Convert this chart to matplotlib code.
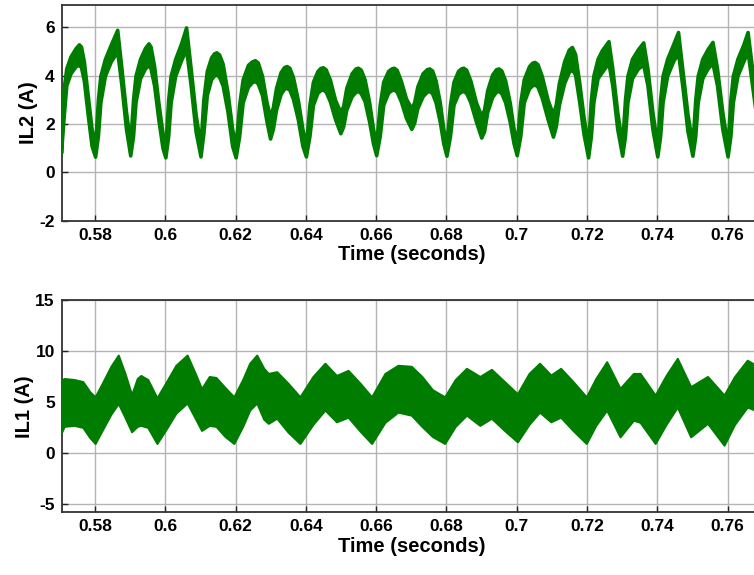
import numpy as np
import matplotlib
matplotlib.use("Agg")
import matplotlib.pyplot as plt

plt.rcParams['font.family'] = ['Liberation Sans', 'DejaVu Sans']
plt.rcParams['font.weight'] = 'bold'

# ---------------- IL2 envelope (time s, upper A, lower A) ----------------
il2_t = [0.5703, 0.5710, 0.5718, 0.5730, 0.5745, 0.5754, 0.5760, 0.5768, 0.5779, 0.5790, 0.5800,
         0.5808, 0.5815, 0.5828, 0.5845, 0.5863, 0.5875, 0.5888, 0.5900,
         0.5908, 0.5915, 0.5928, 0.5942, 0.5952, 0.5958, 0.5968, 0.5980, 0.5992, 0.6000,
         0.6008, 0.6015, 0.6028, 0.6045, 0.6059, 0.6072, 0.6086, 0.6100,
         0.6108, 0.6118, 0.6130, 0.6138, 0.6145, 0.6153, 0.6163, 0.6177, 0.6190, 0.6200,
         0.6210, 0.6220, 0.6235, 0.6247, 0.6255, 0.6263, 0.6275, 0.6288, 0.6298,
         0.6306, 0.6315, 0.6328, 0.6338, 0.6345, 0.6353, 0.6363, 0.6377, 0.6390, 0.6400,
         0.6410, 0.6420, 0.6433, 0.6441, 0.6448, 0.6456, 0.6468, 0.6483, 0.6498,
         0.6506, 0.6515, 0.6530, 0.6541, 0.6548, 0.6556, 0.6567, 0.6580, 0.6591, 0.6600,
         0.6610, 0.6620, 0.6634, 0.6643, 0.6650, 0.6658, 0.6670, 0.6685, 0.6700,
         0.6708, 0.6717, 0.6732, 0.6744, 0.6751, 0.6759, 0.6769, 0.6781, 0.6791, 0.6800,
         0.6810, 0.6820, 0.6833, 0.6841, 0.6848, 0.6856, 0.6868, 0.6884, 0.6899,
         0.6907, 0.6916, 0.6930, 0.6941, 0.6948, 0.6956, 0.6967, 0.6980, 0.6991, 0.7000,
         0.7010, 0.7020, 0.7035, 0.7044, 0.7051, 0.7059, 0.7071, 0.7088, 0.7103,
         0.7111, 0.7120, 0.7135, 0.7148, 0.7157, 0.7166, 0.7178, 0.7190, 0.7203,
         0.7211, 0.7218, 0.7230, 0.7242, 0.7261, 0.7272, 0.7286, 0.7300,
         0.7308, 0.7315, 0.7328, 0.7345, 0.7360, 0.7372, 0.7386, 0.7400,
         0.7408, 0.7415, 0.7428, 0.7445, 0.7459, 0.7471, 0.7486, 0.7500,
         0.7508, 0.7515, 0.7528, 0.7543, 0.7557, 0.7570, 0.7585, 0.7600,
         0.7608, 0.7615, 0.7628, 0.7645, 0.7657, 0.7668, 0.7680, 0.7700]
il2_up = [1.6, 3.4, 4.3, 4.8, 5.15, 5.3, 5.2, 4.6, 3.2, 1.8, 1.1,
          3.0, 4.0, 4.7, 5.3, 5.9, 4.3, 2.5, 1.2,
          3.0, 4.0, 4.7, 5.15, 5.34, 5.2, 4.4, 2.9, 1.6, 1.1,
          3.0, 4.0, 4.7, 5.35, 6.0, 4.3, 2.4, 1.1,
          3.0, 4.2, 4.75, 4.92, 4.97, 4.88, 4.5, 3.3, 1.8, 1.1,
          2.8, 3.85, 4.45, 4.6, 4.64, 4.55, 4.0, 2.9, 2.3,
          2.7, 3.5, 4.15, 4.36, 4.4, 4.33, 3.95, 3.0, 1.8, 1.1,
          2.8, 3.75, 4.2, 4.32, 4.35, 4.27, 3.85, 3.0, 2.5,
          2.75, 3.5, 4.1, 4.3, 4.33, 4.25, 3.85, 2.9, 1.8, 1.2,
          2.8, 3.75, 4.2, 4.3, 4.33, 4.25, 3.8, 3.05, 2.65,
          2.9, 3.55, 4.1, 4.27, 4.3, 4.22, 3.8, 2.9, 1.8, 1.2,
          2.8, 3.75, 4.2, 4.3, 4.33, 4.25, 3.8, 2.9, 2.34,
          2.6, 3.4, 4.05, 4.27, 4.3, 4.22, 3.8, 2.9, 1.8, 1.2,
          2.9, 3.85, 4.4, 4.54, 4.57, 4.48, 4.0, 3.0, 2.4,
          2.8, 3.7, 4.6, 5.08, 5.19, 4.9, 3.7, 2.3, 1.1,
          3.0, 4.0, 4.7, 5.05, 5.43, 4.3, 2.5, 1.15,
          3.0, 4.0, 4.7, 5.1, 5.38, 4.3, 2.5, 1.1,
          3.0, 4.0, 4.7, 5.3, 5.81, 4.3, 2.4, 1.15,
          3.0, 4.0, 4.7, 5.1, 5.4, 4.3, 2.5, 1.1,
          3.0, 4.0, 4.7, 5.3, 5.81, 4.5, 3.2, 1.6]
il2_lo = [0.8, 2.2, 3.6, 4.1, 4.4, 4.45, 4.35, 3.8, 2.4, 1.1, 0.65,
          1.5, 2.9, 4.0, 4.6, 5.0, 3.6, 1.8, 0.7,
          1.5, 2.9, 3.9, 4.3, 4.45, 4.3, 3.6, 2.2, 1.0, 0.62,
          1.5, 2.9, 4.0, 4.65, 5.1, 3.6, 1.7, 0.66,
          1.6, 3.2, 3.85, 4.0, 4.06, 3.95, 3.6, 2.5, 1.1, 0.62,
          1.5, 2.9, 3.55, 3.74, 3.78, 3.68, 3.2, 2.1, 1.4,
          1.8, 2.6, 3.25, 3.46, 3.5, 3.42, 3.05, 2.2, 1.1, 0.66,
          1.5, 2.8, 3.3, 3.4, 3.43, 3.35, 2.95, 2.2, 1.62,
          1.9, 2.6, 3.15, 3.33, 3.37, 3.28, 2.95, 2.1, 1.2, 0.71,
          1.5, 2.8, 3.3, 3.4, 3.43, 3.35, 2.95, 2.25, 1.8,
          2.05, 2.65, 3.15, 3.34, 3.37, 3.28, 2.9, 2.1, 1.2, 0.69,
          1.5, 2.8, 3.25, 3.34, 3.37, 3.29, 2.9, 2.1, 1.44,
          1.7, 2.5, 3.12, 3.34, 3.37, 3.28, 2.9, 2.1, 1.2, 0.71,
          1.5, 2.9, 3.48, 3.6, 3.64, 3.55, 3.1, 2.2, 1.48,
          1.9, 2.8, 3.7, 4.15, 4.26, 4.05, 2.9, 1.6, 0.62,
          1.5, 2.9, 3.9, 4.15, 4.53, 3.6, 1.8, 0.69,
          1.5, 2.9, 3.9, 4.3, 4.46, 3.6, 1.8, 0.66,
          1.5, 2.9, 4.0, 4.6, 4.95, 3.6, 1.7, 0.69,
          1.5, 2.9, 3.9, 4.3, 4.53, 3.6, 1.8, 0.66,
          1.5, 2.9, 4.0, 4.6, 5.0, 3.8, 2.5, 0.9]

# ---------------- IL1 envelope (time s, upper A, lower A) ----------------
il1_t = [0.5703, 0.5712, 0.5740, 0.5765, 0.5785, 0.5800, 0.5820, 0.5845, 0.5866, 0.5885,
         0.5904, 0.5920, 0.5930, 0.5950, 0.5976, 0.6000, 0.6030, 0.6062, 0.6085, 0.6103,
         0.6125, 0.6144, 0.6170, 0.6195, 0.6220, 0.6240, 0.6260, 0.6280, 0.6293, 0.6317,
         0.6350, 0.6383, 0.6420, 0.6454, 0.6487, 0.6520, 0.6555, 0.6587, 0.6625, 0.6662,
         0.6700, 0.6730, 0.6760, 0.6795, 0.6825, 0.6857, 0.6895, 0.6928, 0.6965, 0.7002,
         0.7035, 0.7065, 0.7097, 0.7125, 0.7160, 0.7198, 0.7225, 0.7256, 0.7294, 0.7332,
         0.7351, 0.7394, 0.7425, 0.7457, 0.7495, 0.7543, 0.7590, 0.7620, 0.7656, 0.7700]
il1_up = [7.1, 7.3, 7.2, 7.0, 6.0, 5.5, 6.8, 8.5, 9.6, 7.8,
          5.7, 7.3, 7.6, 7.2, 5.4, 6.8, 8.6, 9.6, 7.8, 6.3,
          7.5, 7.4, 6.4, 5.5, 7.2, 8.8, 9.6, 8.3, 7.8, 7.97,
          6.8, 5.5, 7.5, 8.8, 7.6, 8.1, 6.8, 5.5, 7.8, 8.6,
          8.5, 7.5, 6.2, 5.5, 7.2, 8.3, 7.5, 8.2, 7.0, 5.8,
          7.8, 8.8, 7.64, 8.3, 7.0, 5.5, 7.3, 8.95, 6.33, 7.8,
          7.8, 5.67, 7.6, 9.28, 6.5, 7.5, 5.67, 7.5, 9.1, 8.2]
il1_lo = [1.9, 2.6, 2.7, 2.5, 1.5, 0.92, 2.2, 3.8, 4.85, 3.5,
          2.07, 2.6, 2.7, 2.5, 0.92, 2.2, 3.9, 4.9, 3.4, 2.2,
          2.7, 2.6, 1.6, 0.92, 2.6, 4.2, 4.9, 3.3, 2.9, 3.4,
          2.0, 0.92, 2.8, 4.2, 3.05, 3.5, 2.1, 0.92, 3.0, 4.0,
          3.7, 2.6, 1.6, 0.92, 2.6, 3.7, 2.7, 3.4, 2.2, 1.08,
          2.8, 4.0, 3.05, 3.5, 2.2, 0.92, 2.7, 4.2, 1.57, 3.2,
          3.0, 0.92, 2.8, 4.5, 1.57, 2.9, 0.75, 2.8, 4.5, 3.9]

x_ticks = [0.58, 0.6, 0.62, 0.64, 0.66, 0.68, 0.7, 0.72, 0.74, 0.76]
x_tick_labels = ['0.58', '0.6', '0.62', '0.64', '0.66', '0.68', '0.7', '0.72', '0.74', '0.76']
il2_yticks = [-2, 0, 2, 4, 6]
il1_yticks = [-5, 0, 5, 10, 15]

W, H = 754, 575
fig = plt.figure(figsize=(W / 100, H / 100), dpi=100)

left_px, right_px = 61.7, 762.0
ax1 = fig.add_axes([left_px / W, 1 - 220.7 / H, (right_px - left_px) / W, (220.7 - 4.7) / H])
ax2 = fig.add_axes([left_px / W, 1 - 512.3 / H, (right_px - left_px) / W, (512.3 - 300.2) / H])

green = '#007d00'
ax1.fill_between(il2_t, il2_lo, il2_up, color=green, lw=2.6, edgecolor=green,
                 joinstyle='round', zorder=3)
ax2.fill_between(il1_t, il1_lo, il1_up, color=green, lw=1.5, edgecolor=green,
                 joinstyle='round', zorder=3)

for ax, yt, ylim, lab in [(ax1, il2_yticks, (-1.97, 6.94), 'IL2 (A)'),
                          (ax2, il1_yticks, (-5.85, 15.0), 'IL1 (A)')]:
    ax.set_xlim(0.5705, 0.7698)
    ax.set_ylim(*ylim)
    ax.set_xticks(x_ticks)
    ax.set_xticklabels(x_tick_labels)
    ax.set_yticks(yt)
    ax.set_yticklabels([str(v) for v in yt])
    ax.grid(True, color='#b4b4b4', lw=1.0, zorder=1)
    ax.tick_params(direction='in', length=4, width=1, labelsize=12.5, pad=5, colors='#222222')
    for lbl in ax.get_xticklabels() + ax.get_yticklabels():
        lbl.set_fontweight('bold')
        lbl.set_color('black')
    for s in ax.spines.values():
        s.set_color('#333333')
        s.set_linewidth(1.3)
    ax.set_xlabel('Time (seconds)', fontsize=14.5, fontweight='bold', labelpad=2)
    ax.set_ylabel(lab, fontsize=14.5, fontweight='bold', labelpad=1)

fig.savefig('out.png', dpi=100)
